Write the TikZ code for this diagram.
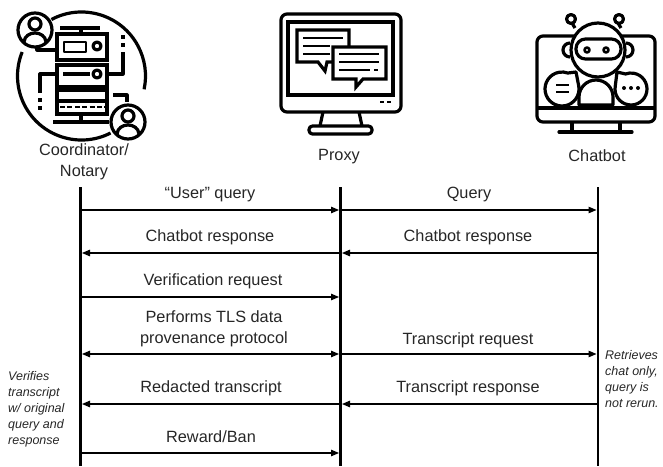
\documentclass[tikz,border=0pt]{standalone}
\usepackage{fontspec}
\setmainfont{Liberation Sans}
\usetikzlibrary{arrows.meta}
\tikzset{
 icon/.style={line width=3.2pt,black,line cap=butt,line join=round},
 life/.style={line width=2.4pt,black},
 msg/.style={line width=1.1pt,black,shorten >=1.5pt,-{Triangle[length=8pt,width=6.5pt]}},
 msgb/.style={line width=1.1pt,black,shorten >=1.5pt,shorten <=1.5pt,{Triangle[length=8pt,width=6.5pt]}-{Triangle[length=8pt,width=6.5pt]}},
 lab/.style={font=\fontsize{16.3}{21}\selectfont,align=center,inner sep=0pt,text=black!85},
 note/.style={font=\fontsize{12.5}{16}\selectfont\itshape,align=left,inner sep=0pt,anchor=north west,text=black!85},
}
\begin{document}
\begin{tikzpicture}[x=1pt,y=-1pt]
\useasboundingbox (0,0) rectangle (663,466);
% Coordinator icon
\begin{scope}[icon]
 \draw (81.5,76) ++(-118:64) arc[start angle=-118,end angle=12,radius=64];
 \draw (81.5,76) ++(63:64) arc[start angle=63,end angle=202,radius=64];
 \draw (35,30) circle (17);
 \draw (128,122) circle (17);
 \draw (35,24) circle (6);
 \draw (128,116) circle (6);
 \draw (24,42) .. controls (25,30) and (45,30) .. (46,42);
 \draw (117,134) .. controls (118,122) and (138,122) .. (139,134);
 \draw[line join=miter] (57,34) rectangle (107,60);
 \draw[line join=miter] (57,65) rectangle (107,87);
 \draw[line join=miter] (57,90) rectangle (107,114);
 \draw (57,101) -- (107,101);
 \draw[line width=2.6pt,dash pattern=on 5pt off 2.4pt] (60,107) -- (105,107);
 \draw[line width=2.6pt] (64,42) rectangle (86,52);
 \draw (97,46) circle (4);
 \draw (97,74) circle (4);
 \draw (63,74) -- (90,74);
 \draw (81,34) -- (81,28); \draw (60,28) -- (100,28);
 \draw (81,114) -- (81,122); \draw (53,122) -- (109,122);
 \draw (37,47) -- (37,50) -- (55,50);
 \draw (107,74) -- (123,74) -- (123,52);
 \draw (57,74) -- (40,74) -- (40,93);
 \draw (123,35) -- (123,39) (123,43) -- (123,47);
 \draw (40,98) -- (40,102) (40,106) -- (40,110);
 \draw (113,95) -- (127,95) -- (127,102);
\end{scope}
% Proxy icon
\begin{scope}[icon]
 \draw[rounded corners=6pt] (281,14) rectangle (401,112);
 \draw[line join=miter] (288,22) rectangle (393,95);
 \draw (323,112) -- (320,126);
 \draw (359,112) -- (362,126);
 \draw[rounded corners=3.5pt] (309,126) rectangle (372,134);
 \draw[line join=miter] (349,47) -- (349,30) -- (297,30) -- (297,62) -- (318,62) -- (325,71) -- (327,62) -- (333,62);
 \draw[line join=miter] (333,47) -- (386,47) -- (386,79) -- (363,79) -- (356,87) -- (356,79) -- (333,79) -- cycle;
 \begin{scope}[line width=2.6pt]
 \draw (303,38) -- (343,38) (303,46) -- (330,46) (303,54) -- (330,54);
 \draw (339,54) -- (379,54) (339,62) -- (379,62) (339,70) -- (370,70);
 \draw (374,70) -- (378,70);
 \draw (380,102) -- (384,102) (387,102) -- (391,102);
 \end{scope}
\end{scope}
% Chatbot icon
\begin{scope}[icon]
 \draw[rounded corners=6pt] (574,36) -- (537,36) -- (537,122) -- (655,122) -- (655,36) -- (622,36);
 \draw (537,108) -- (655,108);
 \draw (572,122) -- (572,132) (620,122) -- (620,132);
 \draw[line cap=round] (559,132) -- (632,132);
 \draw (598,50) circle (27);
 \draw[rounded corners=9.5pt] (576,39) rectangle (621,59);
 \draw[line width=2.6pt] (587,50) circle (2.5) (606,50) circle (2.5);
 \draw (575,28) -- (572,23) (621,28) -- (618,23);
 \draw (571,19) circle (4.5) (619,19) circle (4.5);
 \draw (570,43) arc[start angle=-90,end angle=-270,radius=7];
 \draw (626,43) arc[start angle=-90,end angle=90,radius=7];
 \draw (579,105) -- (579,97) arc[start angle=180,end angle=360,radius=17] -- (613,105) -- cycle;
 \draw (562,89) ++(-10:17) arc[start angle=-10,end angle=290,radius=17] -- (576,72) -- cycle;
 \draw (631,89) ++(190:16) arc[start angle=190,end angle=-110,radius=16] -- (617,72) -- cycle;
 \draw[line width=2.6pt] (556,85) -- (569,85) (556,92) -- (569,92);
\end{scope}
\fill (624,88) circle (2) (631,88) circle (2) (638,88) circle (2);
% Labels
\node[lab] (coordinator) at (84,161.5) {Coordinator/\\Notary};
\node[lab] (proxy) at (339,157) {Proxy};
\node[lab] (chatbot) at (597,156) {Chatbot};
% Lifelines
\coordinate (a0) at (80.5,187); \coordinate (az) at (80.5,466);
\coordinate (b0) at (340.5,187); \coordinate (bz) at (340.5,466);
\coordinate (c0) at (598,187); \coordinate (cz) at (598,466);
\draw[life] (a0) -- (az); \draw[life] (b0) -- (bz); \draw[life] (c0) -- (cz);
% Messages
\foreach \n/\y in {1/210,2/253,3/297,4/354,5/404,6/453}{
 \coordinate (a\n) at (80.5,\y); \coordinate (b\n) at (340.5,\y); \coordinate (c\n) at (598,\y);}
\draw[msg] (a1) -- (b1); \draw[msg] (b1) -- (c1);
\draw[msg] (b2) -- (a2); \draw[msg] (c2) -- (b2);
\draw[msg] (a3) -- (b3);
\draw[msgb] (a4) -- (b4); \draw[msg] (b4) -- (c4);
\draw[msg] (b5) -- (a5); \draw[msg] (c5) -- (b5);
\draw[msg] (a6) -- (b6);
\node[lab] (l1) at (210,194.5) {“User” query};
\node[lab] (l2) at (469,194.5) {Query};
\node[lab] (l3) at (210,237.5) {Chatbot response};
\node[lab] (l4) at (468,237.5) {Chatbot response};
\node[lab] (l5) at (213,281) {Verification request};
\node[lab] (l6) at (214,329) {Performs TLS data\\provenance protocol};
\node[lab] (l7) at (468,340) {Transcript request};
\node[lab] (l8) at (211,388.5) {Redacted transcript};
\node[lab] (l9) at (468,388.5) {Transcript response};
\node[lab] (l10) at (211,437) {Reward/Ban};
\node[note] (n1) at (8,371) {Verifies\\transcript\\w/ original\\query and\\response};
\node[note] (n2) at (605,350) {Retrieves\\chat only,\\query is\\not rerun.};
\end{tikzpicture}
\end{document}
